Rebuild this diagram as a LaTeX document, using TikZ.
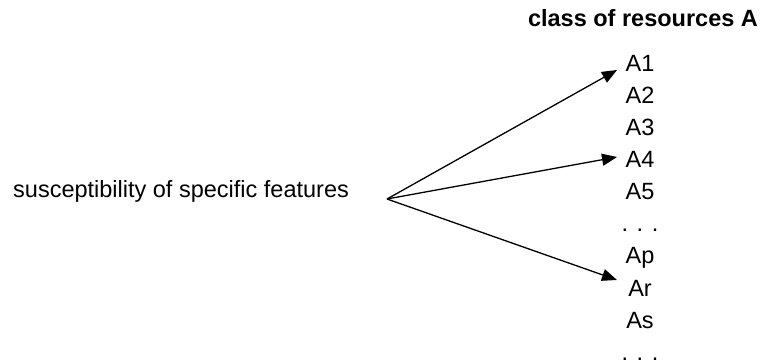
\documentclass[tikz,border=0pt]{standalone}
\usepackage{fontspec}
\setmainfont{Liberation Sans}
\usetikzlibrary{arrows.meta}
\tikzset{
  item/.style={anchor=base, inner sep=0pt, font=\fontsize{23.5}{28}\selectfont},
  link/.style={line width=1.3pt, -{Triangle[length=15pt,width=12pt]}}
}
\begin{document}
\begin{tikzpicture}[x=1pt,y=-1pt]
  \useasboundingbox (0,0) rectangle (765,363);
  \draw
    (643,27) node[item, font=\fontsize{23.5}{28}\selectfont\bfseries] (title){class of resources A}
    (13,198) node[item, anchor=base west] (feat){susceptibility of specific features}
    (640,72) node[item] (a1){A1}
    (640,104) node[item] (a2){A2}
    (640,136) node[item] (a3){A3}
    (640,168) node[item] (a4){A4}
    (640,200) node[item] (a5){A5}
    (640,232) node[item] (dots1){. . .}
    (640,264) node[item] (ap){Ap}
    (640,296) node[item] (ar){Ar}
    (640,328) node[item] (as){As}
    (640,360) node[item] (dots2){. . .};
  \coordinate (src) at (387,199);
  \coordinate (t1) at (617,70);
  \coordinate (t4) at (617,157);
  \coordinate (tr) at (617,280);
  \begin{scope}[link]
    \draw (src) to (t1);
    \draw (src) to (t4);
    \draw (src) to (tr);
  \end{scope}
\end{tikzpicture}
\end{document}
